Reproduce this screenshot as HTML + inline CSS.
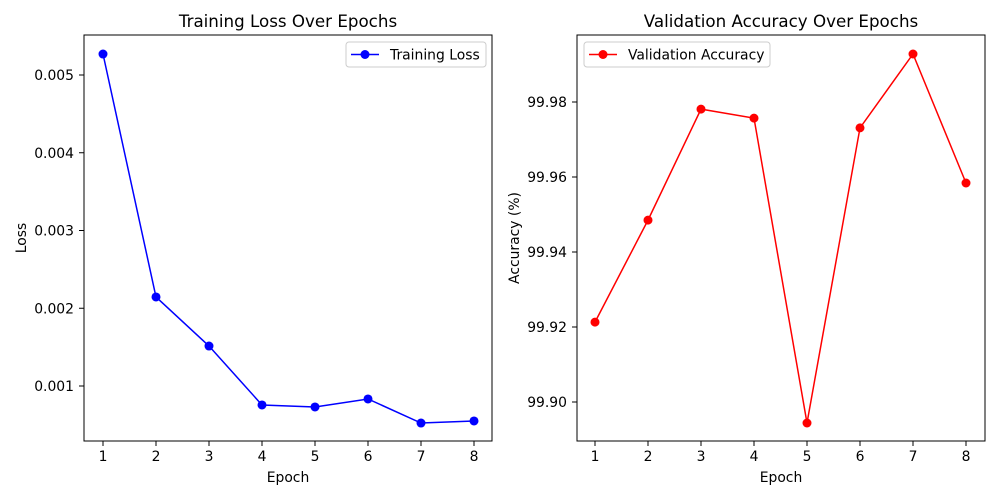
<!DOCTYPE html>
<html><head><meta charset="utf-8"><style>body{margin:0;background:#fff}svg{display:block;font-family:"DejaVu Sans","Liberation Sans",sans-serif}</style></head>
<body>
<svg id="c" width="1000" height="500"></svg>
<script>
const epochs=[1,2,3,4,5,6,7,8];
const lossValues=[0.00527,0.002145,0.001514,0.000756,0.00073,0.000833,0.000524,0.00055];
const accValues=[99.9213,99.9485,99.9781,99.9757,99.8944,99.9731,99.9928,99.9584];
const lossTicks=[0.001,0.002,0.003,0.004,0.005];
const lossTickLabels=["0.001","0.002","0.003","0.004","0.005"];
const accTicks=[99.90,99.92,99.94,99.96,99.98];
const accTickLabels=["99.90","99.92","99.94","99.96","99.98"];
const NS="http://www.w3.org/2000/svg";
const svg=document.getElementById('c');
function el(t,a,p){const e=document.createElementNS(NS,t);for(const k in a)e.setAttribute(k,a[k]);(p||svg).appendChild(e);return e;}
function panel(o){
 const g=el('g',{});
 
 
 const X=v=>o.x0+(v-1)*(o.x1-o.x0)/7;
 const Y=v=>o.ya+(v-o.va)*(o.yb-o.ya)/(o.vb-o.va);
 const fr=el('rect',{x:o.L,y:35,width:408,height:406,fill:'none',stroke:'#000','stroke-width':1},g);
 
 epochs.forEach(e=>{const x=X(e);el('line',{x1:x,x2:x,y1:441,y2:446,stroke:'#000'},g);
  const t=el('text',{x:x,y:461,'font-size':13.9,'text-anchor':'middle'},g);t.textContent=e;
  });
 o.ticks.forEach((v,i)=>{const y=Y(v);el('line',{x1:o.L,x2:o.L-5,y1:y,y2:y,stroke:'#000'},g);
  const t=el('text',{x:o.L-10,y:y+5,'font-size':13.9,'text-anchor':'end'},g);t.textContent=o.labels[i];
  });
 let t=el('text',{x:o.L+204,y:482,'font-size':13.9,'text-anchor':'middle'},g);t.textContent='Epoch';
 
 t=el('text',{x:0,y:0,'font-size':13.9,'text-anchor':'middle',transform:`translate(${o.yl},238) rotate(-90)`},g);t.textContent=o.ylabel;
 
 t=el('text',{x:o.L+204,y:27,'font-size':16.7,'text-anchor':'middle'},g);t.textContent=o.title;
 
 const pts=epochs.map((e,i)=>X(e)+','+Y(o.vals[i])).join(' ');
 const pl=el('polyline',{points:pts,fill:'none',stroke:o.color,'stroke-width':1.5},g);
 
 epochs.forEach((e,i)=>{const c=el('circle',{cx:X(e),cy:Y(o.vals[i]),r:4.5,fill:o.color},g);
  });
 const lg=el('g',{},g);
 el('rect',{x:o.lx,y:42,width:o.lw,height:25,rx:3,fill:'#fff',stroke:'#ccc'},lg);
 el('line',{x1:o.lx+5,x2:o.lx+33,y1:54.5,y2:54.5,stroke:o.color,'stroke-width':1.5},lg);
 el('circle',{cx:o.lx+19,cy:54.5,r:4.5,fill:o.color},lg);
 t=el('text',{x:o.lx+44,y:59.5,'font-size':13.9},lg);t.textContent=o.legend;
 
}
panel({name:'training-loss-panel',L:84,x0:103,x1:474,ya:386,va:0.001,yb:75,vb:0.005,ticks:lossTicks,labels:lossTickLabels,vals:lossValues,color:'#0000ff',title:'Training Loss Over Epochs',ylabel:'Loss',yl:26,legend:'Training Loss',lx:346,lw:140});
panel({name:'validation-accuracy-panel',L:577,x0:595,x1:966,ya:402,va:99.90,yb:102,vb:99.98,ticks:accTicks,labels:accTickLabels,vals:accValues,color:'#ff0000',title:'Validation Accuracy Over Epochs',ylabel:'Accuracy (%)',yl:519,legend:'Validation Accuracy',lx:584,lw:186});
</script>
</body></html>
